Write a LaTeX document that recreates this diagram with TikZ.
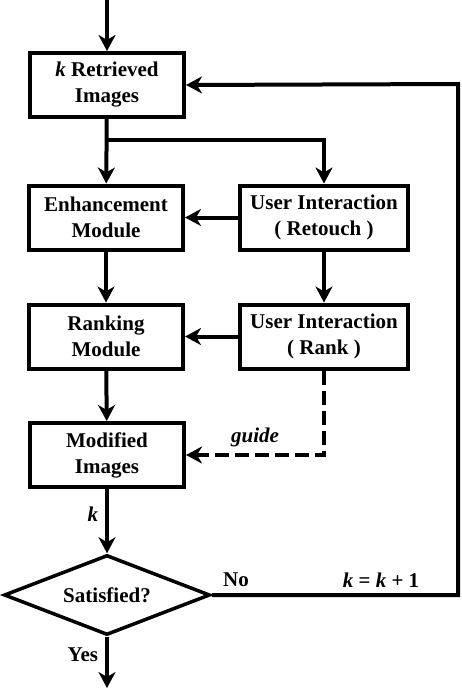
\documentclass[tikz,border=0pt]{standalone}
\usepackage{fontspec}
\setmainfont{Liberation Serif}
\usetikzlibrary{arrows.meta,shapes.geometric}
\begin{document}
\begin{tikzpicture}[x=1pt,y=-1pt,
  box/.style={draw,line width=4pt,minimum width=154,minimum height=64,inner sep=0pt,align=center,font=\fontsize{21}{26}\selectfont\bfseries},
  wbox/.style={box,minimum width=168},
  arr/.style={line width=4pt,-{Stealth[length=16pt,width=17pt,inset=5pt]}},
  lbl/.style={font=\fontsize{21}{24}\selectfont\bfseries,inner sep=0pt}
]
\useasboundingbox (0,0) rectangle (462,688);
\node[box] (ret) at (107,85) {\textit{k} Retrieved\\Images};
\node[box] (enh) at (106,217.5) {Enhancement\\Module};
\node[wbox] (rt) at (324,217.5) {User Interaction\\( Retouch )};
\node[box] (rnk) at (106,336.5) {Ranking\\Module};
\node[wbox] (rk) at (324,336.5) {User Interaction\\( Rank )};
\node[box] (mod) at (107,455) {Modified\\Images};
\node[draw,diamond,shape aspect=2.6,line width=3.5pt,minimum width=206,minimum height=80,inner sep=0pt,font=\fontsize{21}{24}\selectfont\bfseries] (sat) at (107,595) {Satisfied?};
\coordinate (top) at (107,0);
\coordinate (bot) at (107,688);
\coordinate (split) at (107,140);
\coordinate (loopc) at (458,84);
\draw[arr] (top) -- (ret);
\draw[arr] (ret) -- (enh);
\draw[arr] (split) -| (rt.north);
\draw[arr] (rt) -- (enh);
\draw[arr] (enh) -- (rnk);
\draw[arr] (rt) -- (rk);
\draw[arr] (rk) -- (rnk);
\draw[arr] (rnk) -- (mod);
\draw[arr,dash pattern=on 14pt off 6pt] (rk.south) |- (mod.east) node[pos=0.75,above=6pt,lbl,font=\fontsize{21}{24}\selectfont\bfseries\itshape] (g) {guide};
\draw[arr] (mod) -- node[left=7pt,lbl,pos=0.4] (kl) {\textit{k}} (sat);
\draw[arr] (sat.east) -| (loopc) -- (ret.east);
\node[lbl] (no) at (236,580) {No};
\node[lbl] (kk) at (381,580) {\textit{k} = \textit{k} + 1};
\draw[arr] (sat.south) -- node[left=7pt,lbl,pos=0.35] (yes) {Yes} (bot);
\end{tikzpicture}
\end{document}
